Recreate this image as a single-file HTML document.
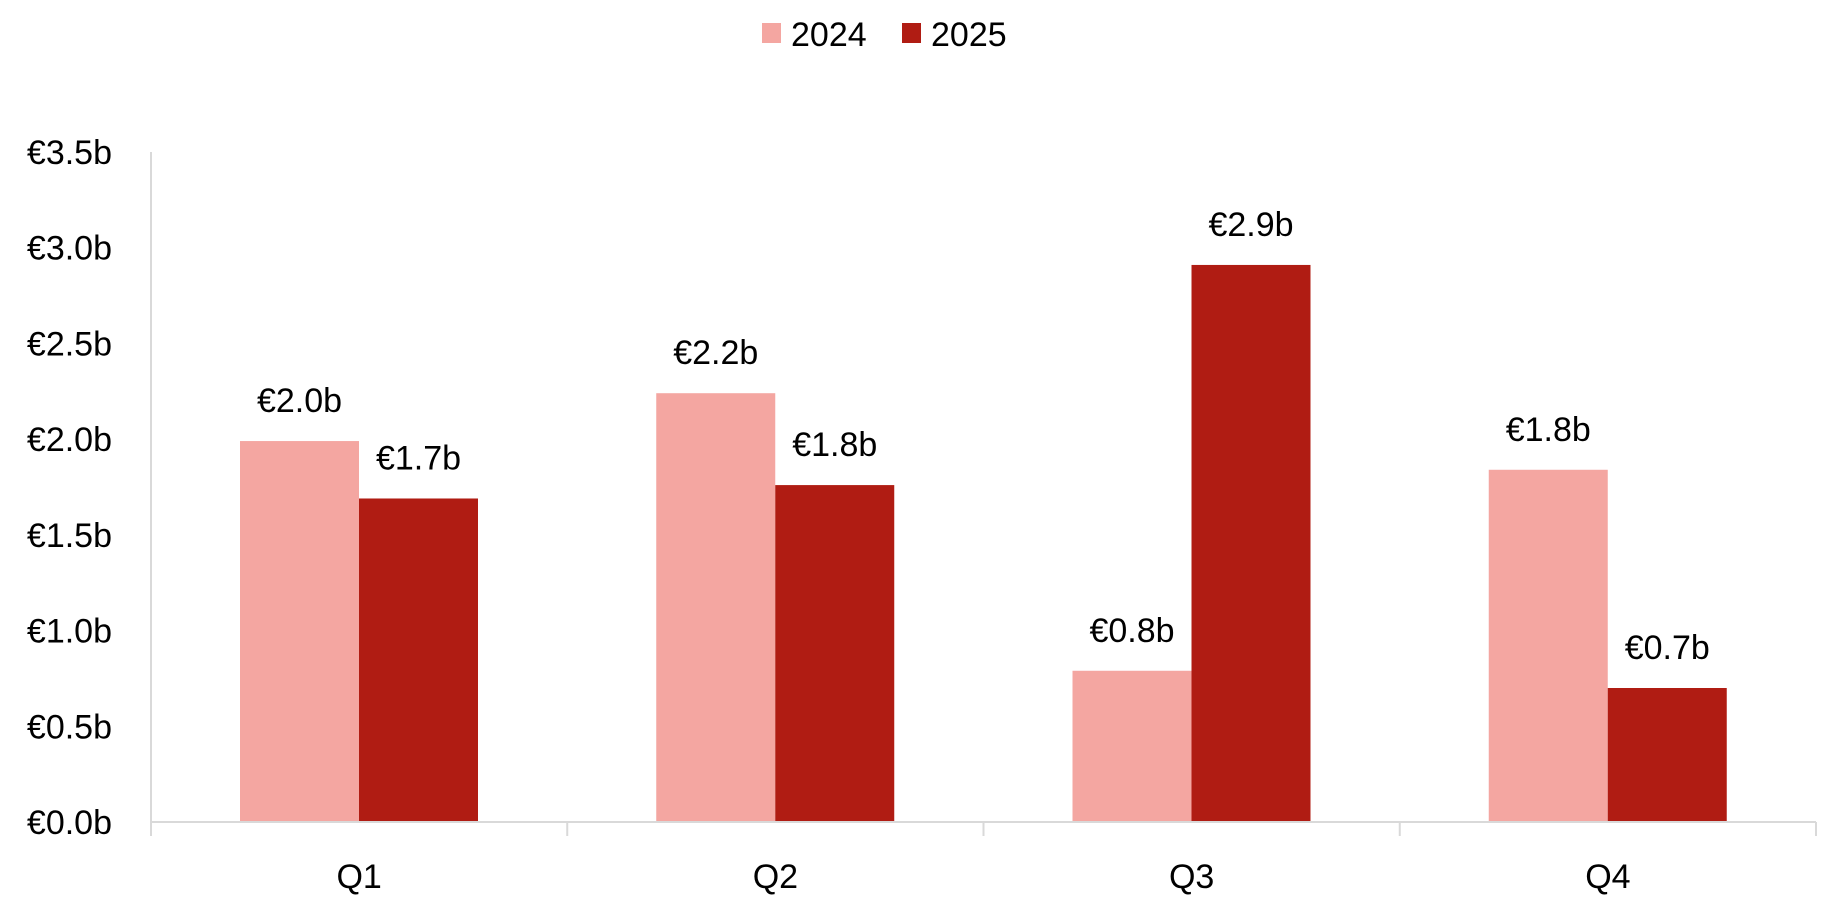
<!DOCTYPE html>
<html><head><meta charset="utf-8"><style>
html,body{margin:0;padding:0;background:#fff;}
svg{display:block;font-family:"Liberation Sans",sans-serif;}
</style></head><body>
<svg id="chart" width="1839" height="910" viewBox="0 0 1839 910" xmlns="http://www.w3.org/2000/svg">
<g>
<rect x="762" y="23" width="19" height="20" fill="#f4a6a1"/>
<text x="791" y="46" font-size="34" fill="#000">2024</text>
<rect x="902" y="23" width="19" height="20" fill="#b01c13"/>
<text x="931" y="46" font-size="34" fill="#000">2025</text>
</g>
<g id="plot"></g>
</svg>
<script>
const categories = ["Q1","Q2","Q3","Q4"];
const series2024 = [1.99, 2.24, 0.79, 1.84];
const series2025 = [1.69, 1.76, 2.91, 0.70];
const labels2024 = ["€2.0b","€2.2b","€0.8b","€1.8b"];
const labels2025 = ["€1.7b","€1.8b","€2.9b","€0.7b"];
const yTicks = [0,0.5,1,1.5,2,2.5,3,3.5];
const yTickLabels = ["€0.0b","€0.5b","€1.0b","€1.5b","€2.0b","€2.5b","€3.0b","€3.5b"];

const NS="http://www.w3.org/2000/svg";
const g=document.getElementById('plot');
const x0=151,x1=1816,yBase=822,yTop=152,yMax=3.5;
const catW=(x1-x0)/categories.length;
const barW=119, groupOff=89;
function y(v){return yBase-(v/yMax)*(yBase-yTop);}
function xCat(i){return x0+i*catW;}
function mk(tag,attrs){const e=document.createElementNS(NS,tag);for(const k in attrs)e.setAttribute(k,attrs[k]);g.appendChild(e);return e;}

yTicks.forEach((t,i)=>{
  const tx=mk('text',{x:112,y:y(t)+12,'font-size':34,'text-anchor':'end',fill:'#000'});
  tx.textContent=yTickLabels[i];
  
  
});
const ya=mk('line',{x1:x0,y1:yTop,x2:x0,y2:yBase+14,stroke:'#d9d9d9','stroke-width':2});



categories.forEach((c,i)=>{
  const bx=xCat(i)+groupOff;
  const b1=mk('rect',{x:bx,y:y(series2024[i]),width:barW,height:yBase-y(series2024[i]),fill:'#f4a6a1'});
  
  
  const b2=mk('rect',{x:bx+barW,y:y(series2025[i]),width:barW,height:yBase-y(series2025[i]),fill:'#b01c13'});
  
  
  const l1=mk('text',{x:bx+barW/2,y:y(series2024[i])-29,'font-size':34,'text-anchor':'middle',fill:'#000'});
  l1.textContent=labels2024[i];
  
  
  const l2=mk('text',{x:bx+barW*1.5,y:y(series2025[i])-29,'font-size':34,'text-anchor':'middle',fill:'#000'});
  l2.textContent=labels2025[i];
  
  
  const cl=mk('text',{x:xCat(i)+catW/2,y:888,'font-size':34,'text-anchor':'middle',fill:'#000'});
  cl.textContent=c;
  
  
  const tk=mk('line',{x1:xCat(i+1),y1:yBase,x2:xCat(i+1),y2:yBase+14,stroke:'#d9d9d9','stroke-width':2});
  
  
});
const xa=mk('line',{x1:x0,y1:yBase,x2:x1,y2:yBase,stroke:'#d9d9d9','stroke-width':2});


</script>
</body></html>
